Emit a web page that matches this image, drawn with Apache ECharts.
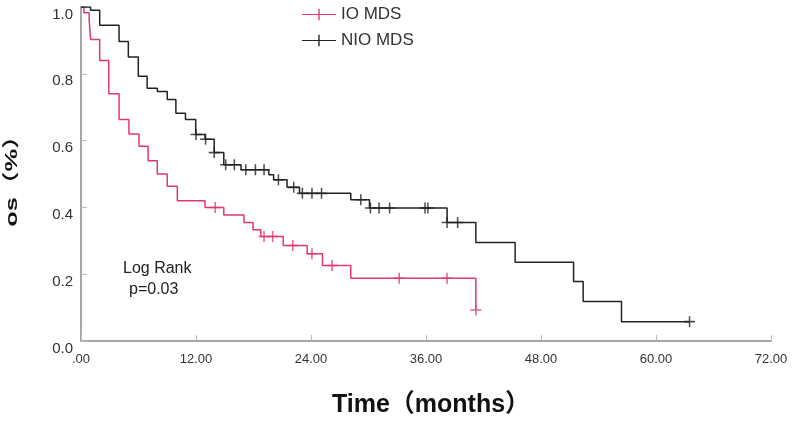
<!DOCTYPE html>
<html>
<head>
<meta charset="utf-8">
<script src="https://cdn.jsdelivr.net/npm/echarts@6/dist/echarts.min.js"></script>
<style>
  html, body { margin: 0; padding: 0; background: #fff; }
  #chart { width: 797px; height: 421px; }
</style>
</head>
<body>
<div id="chart"></div>
<script>
// IO MDS - KM steps (time in months, survival)
var ioTime = [0, 0.3, 0.85, 1.0, 1.95, 2.9, 3.97, 5.0, 6.05, 7.0, 7.96, 9.0, 10.05, 12.94, 14.9, 17.0, 17.95, 18.76, 21.1, 23.6, 25.2, 28.15, 41.2]
var ioSurv = [1.0, 0.983, 0.962, 0.903, 0.84, 0.74, 0.663, 0.62, 0.583, 0.54, 0.50, 0.463, 0.42, 0.40, 0.377, 0.355, 0.333, 0.313, 0.286, 0.261, 0.226, 0.188, 0.093]
var ioCensorTime = [14.0, 19.1, 20.0, 22.1, 24.1, 26.2, 33.2, 38.2, 41.2]
var ioCensorSurv = [0.40, 0.313, 0.313, 0.286, 0.261, 0.226, 0.188, 0.188, 0.093]

// NIO MDS
var nioTime = [0, 1.0, 1.95, 3.97, 4.94, 5.98, 6.9, 7.97, 9.0, 9.9, 10.9, 11.97, 12.94, 13.9, 14.9, 16.7, 19.6, 20.1, 21.5, 22.8, 28.15, 30.1, 38.2, 41.2, 45.3, 51.4, 52.4, 56.4, 63.5]
var nioSurv = [1.0, 0.99, 0.945, 0.897, 0.85, 0.793, 0.757, 0.747, 0.723, 0.682, 0.663, 0.618, 0.604, 0.564, 0.528, 0.513, 0.498, 0.483, 0.46, 0.442, 0.423, 0.398, 0.355, 0.295, 0.236, 0.178, 0.118, 0.058, 0.058]
var nioCensorTime = [12.0, 13.0, 13.9, 15.1, 16.0, 17.2, 18.2, 19.1, 20.6, 22.2, 23.1, 24.1, 25.1, 29.2, 30.2, 31.1, 32.2, 35.9, 36.2, 38.2, 39.3, 63.5]
var nioCensorSurv = [0.618, 0.604, 0.564, 0.528, 0.528, 0.513, 0.513, 0.513, 0.483, 0.46, 0.442, 0.442, 0.442, 0.423, 0.398, 0.398, 0.398, 0.398, 0.398, 0.355, 0.355, 0.058]

var xTicks = [0, 12, 24, 36, 48, 60, 72]
var yTicks = [0, 0.2, 0.4, 0.6, 0.8, 1.0]

var ioColor = '#e2396c'
var nioColor = '#222222'
var plusPath = 'path://M4.3,0h1.4v4.3h4.3v1.4h-4.3v4.3h-1.4v-4.3h-4.3v-1.4h4.3z'
var legendIcon = 'path://M0,5.4H35V6.6H0Z M16.8,0H18.2V12H16.8Z'

function pairs (xs, ys) {
  return xs.map(function (x, i) { return [x, ys[i]] })
}

var chart = echarts.init(document.getElementById('chart'))
chart.setOption({
  animation: false,
  backgroundColor: '#fff',
  textStyle: { fontFamily: 'Liberation Sans, Arial, Noto Sans CJK SC' },
  grid: { left: 81, right: 26, top: 7, bottom: 80, containLabel: false, outerBoundsMode: 'none' },
  legend: {
    orient: 'vertical',
    left: 297,
    top: 1,
    itemWidth: 34,
    itemHeight: 12,
    itemGap: 9,
    textStyle: { fontSize: 17, color: '#333' },
    data: [
      { name: 'IO MDS', icon: legendIcon, itemStyle: { color: ioColor } },
      { name: 'NIO MDS', icon: legendIcon, itemStyle: { color: nioColor } }
    ]
  },
  xAxis: {
    type: 'value',
    min: 0,
    max: 72,
    interval: 12,
    name: 'Time（months）',
    nameLocation: 'middle',
    nameGap: 52,
    nameTextStyle: { fontSize: 25, fontWeight: 'bold', color: '#111', padding: [0, 0, 0, 10] },
    axisLine: { lineStyle: { color: '#888', width: 1.5 } },
    axisTick: { inside: true, length: 6, lineStyle: { color: '#bbb' } },
    axisLabel: {
      fontSize: 13,
      color: '#333',
      margin: 12,
      formatter: function (v) { return v === 0 ? '.00' : v.toFixed(2) }
    },
    splitLine: { show: false }
  },
  yAxis: {
    type: 'value',
    min: 0,
    max: 1,
    interval: 0.2,
    axisLine: { show: true, lineStyle: { color: '#888', width: 1.5 } },
    axisTick: { show: true, inside: true, length: 6, lineStyle: { color: '#bbb' } },
    axisLabel: {
      fontSize: 15,
      color: '#333',
      margin: 8,
      verticalAlign: 'top',
      formatter: function (v) { return v.toFixed(1) }
    },
    splitLine: { show: false }
  },
  graphic: [
    // y axis title, stretched along its length like the source image
    {
      type: 'text',
      x: 12,
      y: 175,
      rotation: Math.PI / 2,
      scaleX: 1.5,
      style: {
        text: 'os（%）',
        fontSize: 17,
        fontWeight: 'bold',
        fill: '#111',
        fontFamily: 'Liberation Sans, Noto Sans CJK SC',
        align: 'center',
        verticalAlign: 'middle'
      }
    },
    { type: 'text', left: 123, top: 261, style: { text: 'Log Rank', fontSize: 16, fill: '#222', fontFamily: 'Liberation Sans' } },
    { type: 'text', left: 129, top: 282, style: { text: 'p=0.03', fontSize: 16, fill: '#222', fontFamily: 'Liberation Sans' } }
  ],
  series: [
    {
      name: 'IO MDS',
      type: 'line',
      step: 'end',
      showSymbol: false,
      lineStyle: { color: ioColor, width: 1.5 },
      itemStyle: { color: ioColor },
      data: pairs(ioTime, ioSurv)
    },
    {
      name: 'NIO MDS',
      type: 'line',
      step: 'end',
      showSymbol: false,
      lineStyle: { color: nioColor, width: 1.5 },
      itemStyle: { color: nioColor },
      data: pairs(nioTime, nioSurv)
    },
    {
      name: 'IO MDS',
      type: 'scatter',
      symbol: plusPath,
      symbolSize: 11,
      itemStyle: { color: ioColor },
      data: pairs(ioCensorTime, ioCensorSurv)
    },
    {
      name: 'NIO MDS',
      type: 'scatter',
      symbol: plusPath,
      symbolSize: 11,
      itemStyle: { color: nioColor },
      data: pairs(nioCensorTime, nioCensorSurv)
    }
  ]
})
</script>
</body>
</html>
